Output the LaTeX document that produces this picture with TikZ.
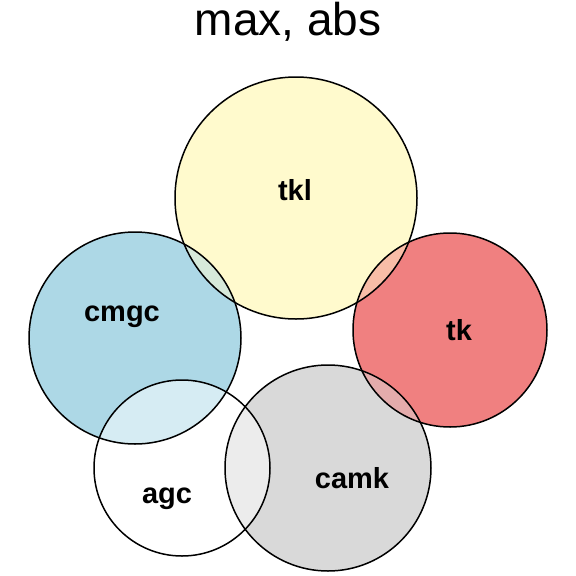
\documentclass[tikz,border=0pt]{standalone}
\usepackage{fontspec}
\setmainfont{Liberation Sans}
\definecolor{cyel}{HTML}{FFFACD}
\definecolor{cblu}{HTML}{ADD8E6}
\definecolor{cred}{HTML}{F08080}
\definecolor{cgry}{HTML}{D9D9D9}
\definecolor{cwht}{HTML}{FFFFFF}
\begin{document}
\begin{tikzpicture}[x=1pt,y=-1pt,
  ring/.style={draw=black,line width=1.5pt},
  lbl/.style={font=\fontsize{29}{29}\selectfont\bfseries}]
\useasboundingbox (0,0) rectangle (576,576);
\def\Atkl{(296,198) circle (121)}
\def\Acmgc{(135,338) circle (106)}
\def\Atk{(450,330) circle (97)}
\def\Aagc{(182,468) circle (88)}
\def\Acamk{(328,468) circle (103)}
% fills
\fill[cyel] \Atkl;
\fill[cblu] \Acmgc;
\fill[cred] \Atk;
\fill[cwht] \Aagc;
\fill[cgry] \Acamk;
% overlaps
\begin{scope}\clip \Atkl; \fill[cyel!50!cred] \Atk; \end{scope}
\begin{scope}\clip \Atkl; \fill[cyel!50!cblu] \Acmgc; \end{scope}
\begin{scope}\clip \Acmgc; \fill[cblu!50!cwht] \Aagc; \end{scope}
\begin{scope}\clip \Aagc; \fill[cwht!50!cgry] \Acamk; \end{scope}
\begin{scope}\clip \Atk; \fill[cred!50!cgry] \Acamk; \end{scope}
% outlines
\draw[ring] \Atkl;
\draw[ring] \Acmgc;
\draw[ring] \Atk;
\draw[ring] \Aagc;
\draw[ring] \Acamk;
% labels
\node[lbl] (tkl) at (295,190) {tkl};
\node[lbl] (cmgc) at (122,317) {cmgc};
\node[lbl] (tk) at (459,330) {tk};
\node[lbl] (agc) at (167,499) {agc};
\node[lbl] (camk) at (352,478) {camk};
\node[font=\fontsize{46}{46}\selectfont] (title) at (288,22) {max, abs};
\end{tikzpicture}
\end{document}
